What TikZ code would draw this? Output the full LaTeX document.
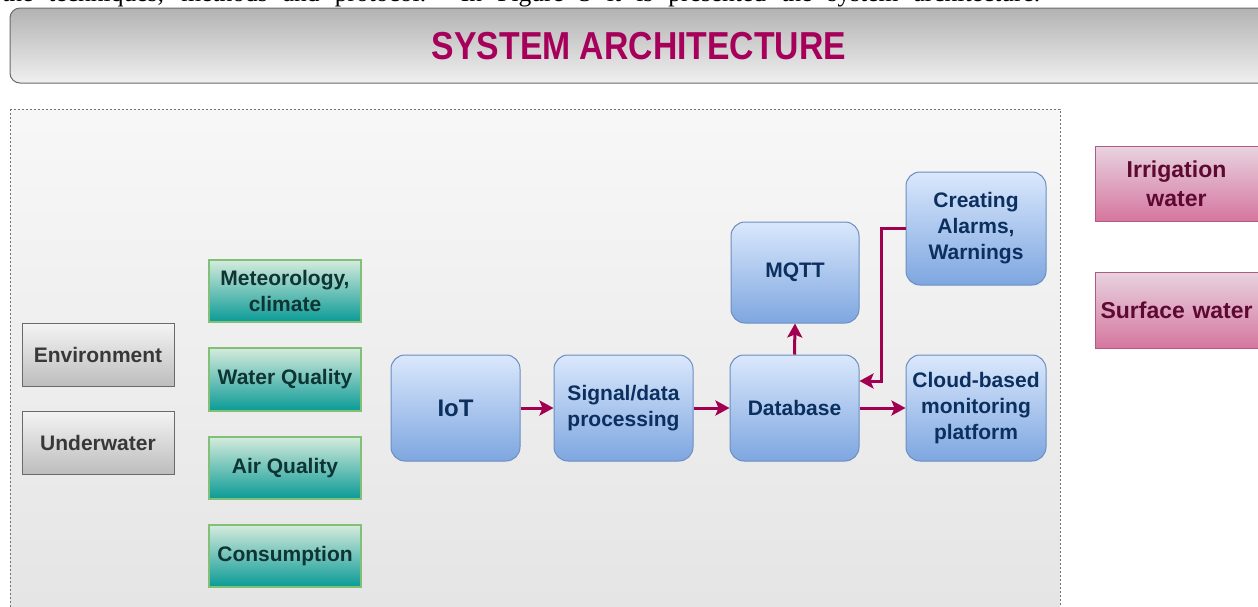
\documentclass[tikz,border=0pt]{standalone}
\usepackage{fontspec}
\setmainfont{Liberation Serif}
\newfontfamily\arialbf{Liberation Sans}[BoldFont={Liberation Sans Bold}]
\usetikzlibrary{arrows.meta,calc,shadings}
\definecolor{arrc}{HTML}{A0004F}
\definecolor{titlec}{HTML}{A6005B}
\definecolor{bluetop}{HTML}{DAE8FC}
\definecolor{bluebot}{HTML}{7EA6E0}
\definecolor{blueline}{HTML}{6C8EBF}
\definecolor{bluetext}{HTML}{0B2F5E}
\definecolor{tealtop}{HTML}{D5EBDC}
\definecolor{tealbot}{HTML}{0A9A96}
\definecolor{tealline}{HTML}{82C07A}
\definecolor{tealtext}{HTML}{0E3434}
\definecolor{graytop}{HTML}{F4F4F4}
\definecolor{graybot}{HTML}{BDBDBD}
\definecolor{grayline}{HTML}{6A6A6A}
\definecolor{pinktop}{HTML}{E8D3E0}
\definecolor{pinkbot}{HTML}{D5769F}
\definecolor{pinkline}{HTML}{B05A85}
\definecolor{pinktext}{HTML}{5E0A30}
\tikzset{
  base/.style={rectangle, align=center, inner sep=2pt, font=\arialbf\bfseries\fontsize{21}{26}\selectfont},
  bluebox/.style={base, rounded corners=14pt, draw=blueline, line width=1pt, top color=bluetop, bottom color=bluebot, text=bluetext},
  tealbox/.style={base, draw=tealline, line width=1.2pt, top color=tealtop, bottom color=tealbot, text=tealtext, minimum width=152pt},
  graybox/.style={base, draw=grayline, line width=1pt, top color=graytop, bottom color=graybot, text=black!78, minimum width=152pt, minimum height=63pt},
  pinkbox/.style={base, draw=pinkline, line width=1pt, top color=pinktop, bottom color=pinkbot, text=pinktext, font=\arialbf\bfseries\fontsize{23}{29}\selectfont},
  arr/.style={draw=arrc, line width=3pt, -{Stealth[length=14pt,width=15pt,inset=3pt]}}
}
\begin{document}
\begin{tikzpicture}[x=1pt,y=-1pt]
\useasboundingbox (0,0) rectangle (1258,606);
\clip (0,0) rectangle (1258,606);
\fill[white] (0,0) rectangle (1258,606);
% clipped text line at top (justified line of a paragraph)
\node[anchor=base west, inner sep=0pt, font=\fontsize{25.5}{28}\selectfont] (toptext) at (2,1.5) {\makebox[1038pt][s]{the techniques, methods and protocol. In Figure 3 it is presented the system architecture.}};
% title bar
\draw[grayline, line width=1pt, rounded corners=10pt, top color=black!30, bottom color=black!6] (10,8) rectangle (1300,83);
\node[font=\arialbf\bfseries\fontsize{39}{42}\selectfont, text=titlec, inner sep=0pt] (title) at (639,46) {\scalebox{0.865}[1]{SYSTEM ARCHITECTURE}};
% container
\draw[black!55, dashed, dash pattern=on 2pt off 2pt, line width=0.8pt, top color=black!3, bottom color=black!11] (10,109) rectangle (1060,660);
% gray boxes
\node[graybox] (env) at (98,354.5) {Environment};
\node[graybox] (under) at (98,442.5) {Underwater};
% teal boxes
\node[tealbox, minimum height=62pt] (met) at (285,291) {Meteorology,\\climate};
\node[tealbox, minimum height=63pt] (wq) at (285,379.5) {Water Quality};
\node[tealbox, minimum height=62pt] (aq) at (285,468) {Air Quality};
\node[tealbox, minimum height=62pt] (cons) at (285,556) {Consumption};
% blue boxes
\node[bluebox, minimum width=129pt, minimum height=106pt, font=\arialbf\bfseries\fontsize{24}{28}\selectfont] (iot) at (455.5,408) {IoT};
\node[bluebox, minimum width=139pt, minimum height=106pt] (sig) at (623.5,408) {Signal/data\\processing};
\node[bluebox, minimum width=129pt, minimum height=106pt] (db) at (794.5,408) {Database};
\node[bluebox, minimum width=128pt, minimum height=101pt] (mqtt) at (795,272.5) {MQTT};
\node[bluebox, minimum width=140pt, minimum height=113pt] (alarm) at (976,228.5) {Creating\\Alarms,\\Warnings};
\node[bluebox, minimum width=140pt, minimum height=106pt] (cloud) at (976,408) {Cloud-based\\monitoring\\platform};
% pink boxes
\node[pinkbox, minimum width=170pt, minimum height=75pt, anchor=west] (irr) at (1095,183.5) {\hspace*{-8pt}Irrigation\\\hspace*{-8pt}water};
\node[pinkbox, minimum width=170pt, minimum height=76pt, anchor=west, align=left, inner xsep=5pt, text width=160pt] (surf) at (1095,310) {Surface water};
% arrows
\draw[arr] (iot) -- (sig);
\draw[arr] (sig) -- (db);
\draw[arr] (db) -- (cloud);
\draw[arr] (db.north) -- (mqtt.south);
\draw[arr] (alarm.west) -- ++(-24,0) |- ($(db.east)+(0,-27)$);
\end{tikzpicture}
\end{document}
